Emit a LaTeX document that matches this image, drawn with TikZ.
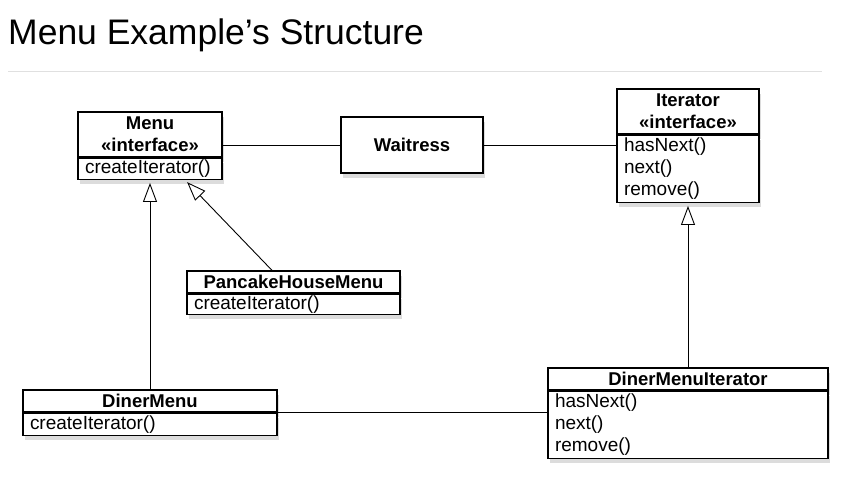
\documentclass[tikz,border=0pt]{standalone}
\usepackage{fontspec}
\setmainfont{Liberation Sans}
\usetikzlibrary{arrows.meta,positioning,shadows,calc}
\tikzset{
  box/.style={draw=black,line width=1.3pt,fill=white,inner sep=0pt,
    drop shadow={opacity=0.28,shadow xshift=2pt,shadow yshift=-5pt}},
  head/.style={box,minimum width=#1,font=\fontsize{18.5}{22}\selectfont\bfseries,align=center},
  ops/.style={box,inner xsep=7pt,text width=#1,font=\fontsize{19}{22}\selectfont,align=left},
  assoc/.style={line width=0.9pt,draw=black},
  inherit/.style={assoc,-{Triangle[open,length=19pt,width=14pt]},shorten >=3pt},
}
\begin{document}
\begin{tikzpicture}[x=1pt,y=-1pt]
  \useasboundingbox (0,0) rectangle (841,503);
  % title
  \node[anchor=base west,inner sep=0pt,font=\fontsize{35.5}{40}\selectfont] (title) at (8,45) {Menu Example’s Structure};
  \draw[black!12,line width=1pt] (8,72) -- (822,72);
  % interfaces
  \node[head=144pt,minimum height=45pt] (menu) at (150,134.5) {Menu\\«interface»};
  \node[ops=130pt,minimum height=21pt,below=0pt of menu] (menuops) {createIterator()};
  \node[head=142pt,minimum height=56pt] (waitress) at (412,145) {Waitress};
  \node[head=142pt,minimum height=45pt] (iterator) at (688,111.5) {Iterator\\«interface»};
  \node[ops=128pt,minimum height=67pt,below=0pt of iterator] (iteratorops) {hasNext()\\next()\\remove()};
  % concrete classes
  \node[head=213pt,minimum height=22pt] (pancake) at (293.5,282) {PancakeHouseMenu};
  \node[ops=199pt,minimum height=20pt,below=0pt of pancake] (pancakeops) {createIterator()};
  \node[head=254pt,minimum height=22pt] (diner) at (150,401) {DinerMenu};
  \node[ops=240pt,minimum height=22pt,below=0pt of diner] (dinerops) {createIterator()};
  \node[head=280pt,minimum height=22pt] (dineriter) at (688,379) {DinerMenuIterator};
  \node[ops=266pt,minimum height=67pt,below=0pt of dineriter] (dineriterops) {hasNext()\\next()\\remove()};
  % associations
  \draw[assoc] (waitress.west) -- (waitress.west -| menu.east);
  \draw[assoc] (waitress.east) -- (waitress.east -| iteratorops.west);
  \draw[assoc] (dinerops.north east) -- (dinerops.north east -| dineriterops.west);
  % realisations
  \draw[inherit] (diner.north) -- (menuops.south);
  \draw[inherit] ([xshift=-21.5pt]pancake.north) -- ([xshift=35pt]menuops.south);
  \draw[inherit] (dineriter.north) -- (iteratorops.south);
\end{tikzpicture}
\end{document}
